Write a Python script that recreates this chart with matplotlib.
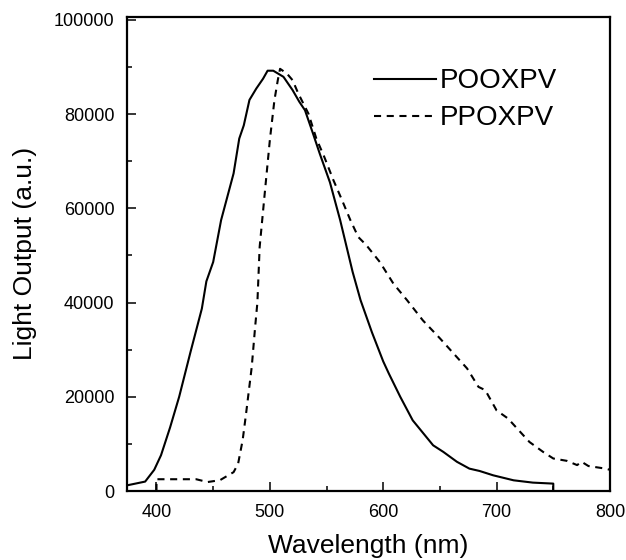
import matplotlib.pyplot as plt

plt.rcParams.update({
    "font.family": ["Liberation Sans", "DejaVu Sans"],
    "font.size": 13,
})

# POOXPV emission spectrum (solid)
pooxpv_nm = [374, 390, 398, 404, 412, 420, 430, 440, 444, 450, 457, 468, 473, 477,
             482, 488, 494, 498, 503, 512, 520, 526, 531, 538, 544, 553, 562, 573,
             580, 590, 600, 605, 615, 626, 644, 653, 665, 676, 685, 697, 715, 732,
             750, 750]
pooxpv_out = [1200, 2000, 4500, 7600, 13500, 20000, 29500, 38700, 44500, 48600,
              57500, 67400, 74800, 77600, 83000, 85400, 87500, 89200, 89200, 87900,
              85100, 82600, 80800, 75900, 71600, 65500, 57500, 46500, 40500, 33700,
              27500, 24900, 20000, 15000, 9700, 8300, 6200, 4750, 4250, 3330, 2270,
              1780, 1570, 0]

# PPOXPV emission spectrum (dashed)
ppoxpv_nm = [400, 400, 435, 445, 456, 468, 472, 476, 479, 484, 487, 489, 491, 496,
             500, 504, 507, 509, 515, 520, 525, 534, 541, 548, 556, 563, 571, 578,
             585, 597, 609, 621, 635, 650, 662, 674, 684, 690, 700, 710, 721, 729,
             741, 750, 762, 771, 775, 781, 796, 800]
ppoxpv_out = [0, 2500, 2500, 1900, 2300, 4000, 5800, 10800, 16400, 26300, 34800,
              40000, 51800, 64500, 74500, 82900, 87200, 89600, 88600, 87200, 84400,
              80100, 74800, 70900, 66000, 62100, 57500, 53900, 52200, 48600, 44000,
              40500, 36200, 32400, 29200, 26000, 22100, 21400, 17100, 15400, 12500,
              10400, 8300, 6900, 6400, 5500, 6200, 5300, 4750, 4500]

fig = plt.figure(figsize=(6.26, 5.6), dpi=100)
ax = fig.add_axes([0.2029, 0.1232, 0.7715, 0.8473])

ax.plot(pooxpv_nm, pooxpv_out, color="black", lw=1.5, label="POOXPV")
ax.plot(ppoxpv_nm, ppoxpv_out, color="black", lw=1.5, linestyle=(0, (3.4, 2.7)),
        label="PPOXPV")

ax.set_xlim(374, 800)
ax.set_ylim(0, 100700)
ax.set_xticks([400, 500, 600, 700, 800])
ax.set_xticks([450, 550, 650, 750], minor=True)
ax.set_yticks([0, 20000, 40000, 60000, 80000, 100000])
ax.set_yticks([10000, 30000, 50000, 70000, 90000], minor=True)

ax.tick_params(which="both", direction="in", top=False, right=False,
               width=1.1, labelsize=13, pad=9)
ax.tick_params(which="major", length=6.5)
ax.tick_params(which="minor", length=3.8)
for sp in ax.spines.values():
    sp.set_linewidth(1.6)

ax.set_xlabel("Wavelength (nm)", fontsize=19, labelpad=10)
ax.set_ylabel("Light Output (a.u.)", fontsize=19, labelpad=12)

ax.legend(loc="upper left", bbox_to_anchor=(0.511, 0.891), frameon=False,
          fontsize=20, handlelength=2.25, handletextpad=0.12, borderpad=0,
          borderaxespad=0, labelspacing=0.4)

fig.savefig("out.png", dpi=100)
